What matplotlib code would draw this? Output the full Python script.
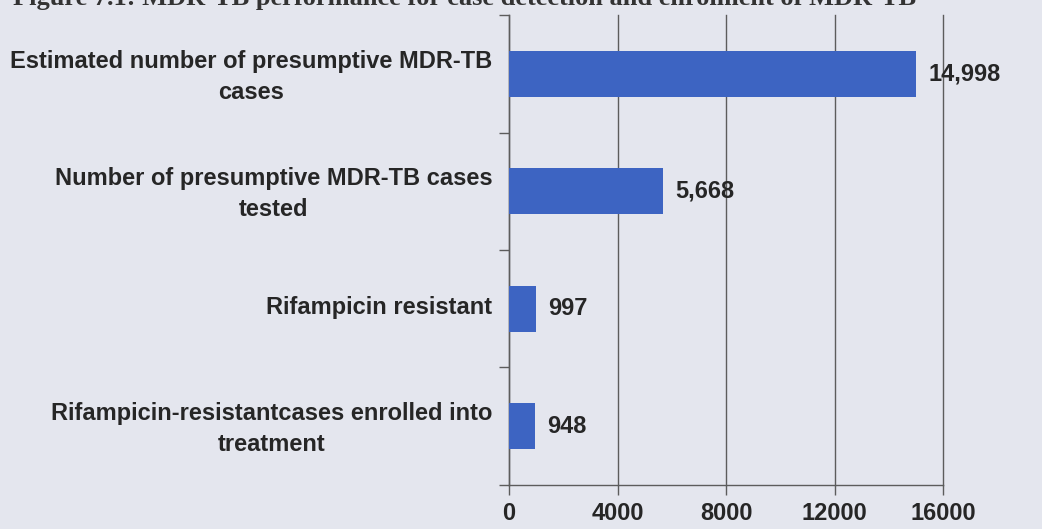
import numpy as np
import matplotlib.pyplot as plt

# categories and counts, top to bottom
categories = [
    "Estimated number of presumptive MDR-TB\ncases",
    "Number of presumptive MDR-TB cases\ntested",
    "Rifampicin resistant",
    "Rifampicin-resistantcases enrolled into\ntreatment",
]
counts = [14998, 5668, 997, 948]
x_ticks = [0, 4000, 8000, 12000, 16000]
title = "Figure 7.1: MDR-TB performance for case detection and enrolment of MDR-TB"

bg = "#e4e6ee"
bar_color = "#3d64c2"
line_color = "#5c5c5c"
text_color = "#262626"

fig = plt.figure(figsize=(10.42, 5.29), dpi=100)
fig.patch.set_facecolor(bg)
ax = fig.add_axes([0.4885, 0.0832, 0.905 - 0.4885, 0.9716 - 0.0832])
ax.set_facecolor(bg)

y = np.arange(len(categories))
ax.barh(y, counts, height=0.39, color=bar_color, zorder=3)
ax.set_xlim(0, 16000)
ax.set_ylim(len(categories) - 0.5, -0.5)

# value labels to the right of the bars
for yi, v in zip(y, counts):
    ax.annotate(f"{v:,}", (v, yi), xytext=(9, 0), textcoords="offset points",
                va="center", ha="left", fontsize=17, fontweight="bold",
                family="Liberation Sans", color=text_color)

ax.set_xticks(x_ticks)
ax.set_xticklabels([str(t) for t in x_ticks], fontsize=17, fontweight="bold",
                   family="Liberation Sans", color=text_color)
ax.xaxis.grid(True, color=line_color, linewidth=1.0, zorder=0)
for gl in ax.get_xgridlines():
    gl.set_clip_on(False)

# y ticks at the category boundaries, labels at the centres
ax.set_yticks(np.arange(-0.5, len(categories), 1.0))
ax.set_yticklabels([])
ax.set_yticks(y - 0.03, minor=True)
ax.set_yticklabels(categories, minor=True, fontsize=17, fontweight="bold",
                   family="Liberation Sans", color=text_color)
for lab in ax.get_yticklabels(minor=True):
    lab.set_multialignment("center")
    lab.set_linespacing(1.45)
ax.tick_params(axis="y", which="minor", length=0, pad=12)
ax.tick_params(axis="y", which="major", length=7, color=line_color, width=1.0)
ax.tick_params(axis="x", length=7, color=line_color, width=1.0, pad=5)

for s in ["top", "right"]:
    ax.spines[s].set_visible(False)
for s in ["left", "bottom"]:
    ax.spines[s].set_color(line_color)
    ax.spines[s].set_linewidth(1.0)

# caption cut off by the top edge of the scan
fig.text(0.012, 1 - 5 / 529, title, ha="left", va="baseline", fontsize=19,
         fontweight="bold", family="Liberation Serif", color="#333333")

fig.savefig("out.png", dpi=100, facecolor=bg)
